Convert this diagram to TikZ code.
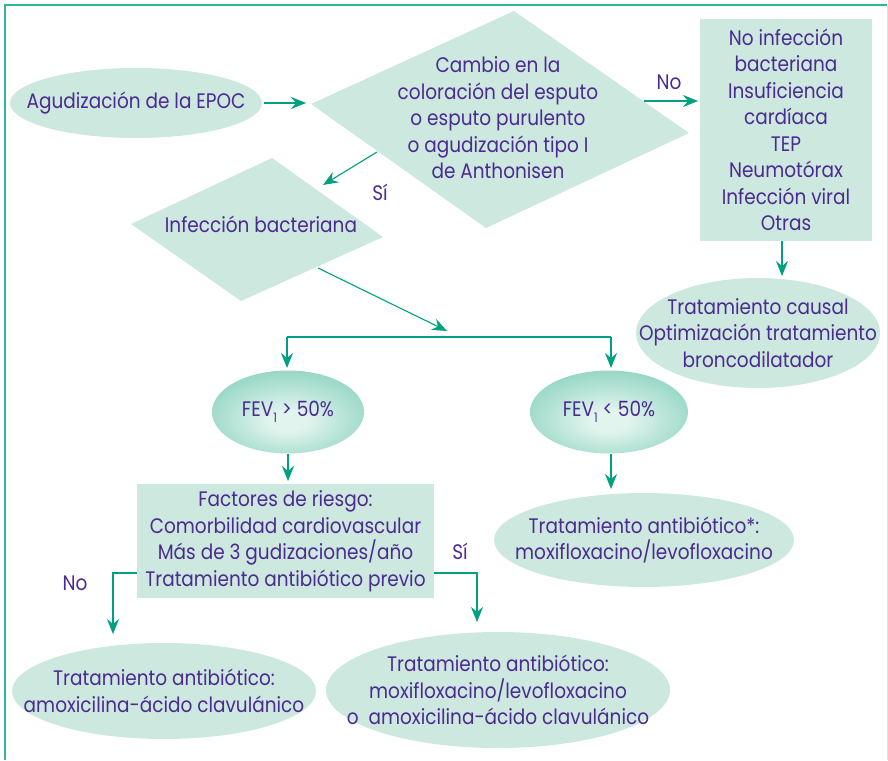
\documentclass[tikz,border=0pt]{standalone}
\usepackage{fontspec}
\setmainfont{Poppins}[FakeStretch=0.88]
\usetikzlibrary{shapes.geometric,arrows.meta}
\definecolor{fillc}{HTML}{CCE8DF}
\definecolor{arrc}{HTML}{00A080}
\definecolor{txtc}{HTML}{4C2B90}
\definecolor{framec}{HTML}{2DB89C}
\definecolor{fevin}{HTML}{E2F4EE}
\definecolor{fevout}{HTML}{58BFA5}
\pgfdeclareradialshading{fevshade}{\pgfpoint{0bp}{-6bp}}{color(0bp)=(fevin); color(6bp)=(fevin); color(47bp)=(fevout); color(70bp)=(fevout)}
\tikzset{
  txt/.style={text=txtc, font=\fontsize{21}{26.5}\selectfont, align=center},
  ell/.style={ellipse, fill=fillc, inner sep=0pt},
  box/.style={txt, rectangle, fill=fillc, inner sep=0pt},
  fev/.style={ellipse, shading=fevshade, inner sep=0pt, minimum height=83pt},
  arr/.style={draw=arrc, line width=1.1pt, -{Stealth[length=15pt,width=12pt,inset=5pt]}},
  ln/.style={draw=arrc, line width=1.1pt},
  lbl/.style={txt, inner sep=0pt}
}
\begin{document}
\begin{tikzpicture}[x=1pt,y=-1pt]
\useasboundingbox (0,0) rectangle (888,760);
% frame
\draw[framec, line width=1.8pt] (5,760) -- (5,5) -- (887,5);
\draw[black!12, line width=0.8pt] (887,6) -- (887,760);

% diamonds
\coordinate (d1n) at (514,11);
\coordinate (d1e) at (689,133);
\coordinate (d1s) at (486,228);
\coordinate (d1w) at (311,104);
\fill[fillc] (d1n) -- (d1e) -- (d1s) -- (d1w) -- cycle;
\node[lbl] (dia1) at (498,118) {Cambio en la\\coloración del esputo\\o esputo purulento\\o agudización tipo I\\de Anthonisen};

\coordinate (d2n) at (272,158);
\coordinate (d2e) at (383,237);
\coordinate (d2s) at (241,301);
\coordinate (d2w) at (131,224);
\fill[fillc] (d2n) -- (d2e) -- (d2s) -- (d2w) -- cycle;
\node[lbl] (dia2) at (261,224) {Infección bacteriana};

% shapes
\node[ell, minimum width=252pt, minimum height=70pt] (agud) at (136,103) {};
\node[box, minimum width=172pt, minimum height=222pt] (nobac) at (786,130) {No infección\\bacteriana\\Insuficiencia\\cardíaca\\TEP\\Neumotórax\\Infección viral\\Otras};
\node[ell, minimum width=244pt, minimum height=110pt] (causal) at (758,333) {};
\node[fev, minimum width=152pt] (fev1) at (288,412) {};
\node[fev, minimum width=158pt] (fev2) at (609,412) {};
\node[box, minimum width=297pt, minimum height=114pt] (fact) at (285.5,541) {Factores de riesgo:\\Comorbilidad cardiovascular\\Más de 3 gudizaciones/año\\Tratamiento antibiótico previo};
\node[ell, minimum width=300pt, minimum height=94pt] (antr) at (644,540) {};
\node[ell, minimum width=304pt, minimum height=96pt] (antl) at (164,691) {};
\node[ell, minimum width=344pt, minimum height=116pt] (antm) at (498,690) {};

% texts in ellipses
\node[lbl] (tagud) at (agud) {Agudización de la EPOC};
\node[lbl] (tcausal) at (causal) {Tratamiento causal\\Optimización tratamiento\\broncodilatador};
\node[lbl] (tfev1) at (fev1) {FEV\raisebox{-0.5ex}{\fontsize{13}{13}\selectfont 1} > 50\%};
\node[lbl] (tfev2) at (fev2) {FEV\raisebox{-0.5ex}{\fontsize{13}{13}\selectfont 1} < 50\%};
\node[lbl] (tantr) at (antr) {Tratamiento antibiótico*:\\moxifloxacino/levofloxacino};
\node[lbl] (tantl) at (antl) {Tratamiento antibiótico:\\amoxicilina-ácido clavulánico};
\node[lbl] (tantm) at (antm) {Tratamiento antibiótico:\\moxifloxacino/levofloxacino\\o\ \ amoxicilina-ácido clavulánico};

% labels
\node[lbl] (lno1) at (669,82) {No};
\node[lbl] (lsi1) at (380,192) {Sí};
\node[lbl] (lno2) at (75,583) {No};
\node[lbl] (lsi2) at (460,551) {Sí};

% connectors
\coordinate (a1s) at (264,103);
\coordinate (a1e) at (306,103);
\draw[arr] (a1s) -- (a1e);
\coordinate (nos) at (644,101);
\coordinate (noe) at (698,101);
\draw[arr] (nos) -- (noe);
\coordinate (sis) at (377,152);
\coordinate (sie) at (323,185);
\draw[arr] (sis) -- (sie);
\coordinate (bs) at (318,268);
\coordinate (be) at (447,331);
\draw[arr] (bs) -- (be);
\coordinate (hl) at (287,337);
\coordinate (hr) at (611,337);
\draw[ln] (hl) -- (hr);
\draw[arr] (hl) -- (287,368);
\draw[arr] (hr) -- (611,368);
\draw[arr] (fev1.south) -- (288,481);
\draw[arr] (611,454) -- (611,489);
\draw[arr] (nobac.south -| 782,0) -- (782,276);
\draw[arr] (fact.west |- 0,573) -- (113,573) -- (113,634);
\draw[arr] (fact.east |- 0,573) -- (477,573) -- (477,622);
\end{tikzpicture}
\end{document}
